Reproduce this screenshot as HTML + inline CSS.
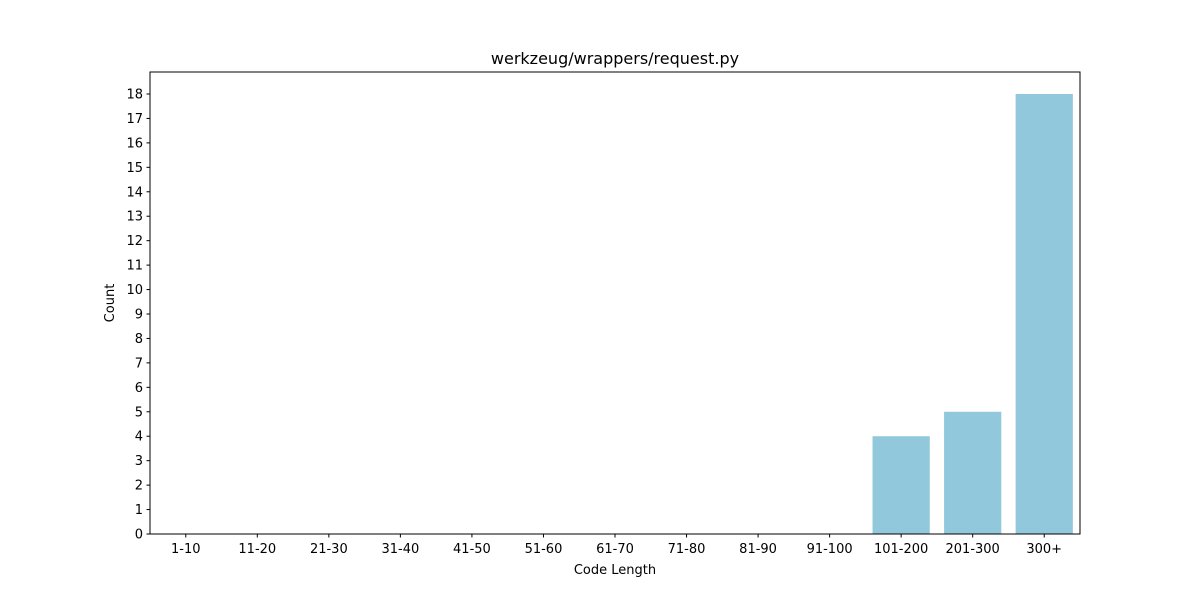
<!DOCTYPE html>
<html><head><meta charset="utf-8"><style>
body{margin:0;background:#fff;font-family:"DejaVu Sans","Liberation Sans",sans-serif;}
</style></head><body>
<svg id="chart" width="1200" height="600" font-family="DejaVu Sans, Liberation Sans, sans-serif"></svg>
<script>
const categories=["1-10","11-20","21-30","31-40","41-50","51-60","61-70","71-80","81-90","91-100","101-200","201-300","300+"];
const counts=[0,0,0,0,0,0,0,0,0,0,4,5,18];
const yTicks=[0,1,2,3,4,5,6,7,8,9,10,11,12,13,14,15,16,17,18];
const svg=document.getElementById('chart');
const NS='http://www.w3.org/2000/svg';
const L=150,R=1080,T=72,B=534,yMax=18.9;
const x=i=>L+(i+0.5)*(R-L)/categories.length;
const y=v=>B-v*(B-T)/yMax;
const bw=0.8*(R-L)/categories.length;
function mk(tag,attrs,txt){const e=document.createElementNS(NS,tag);for(const k in attrs)e.setAttribute(k,attrs[k]);if(txt!==undefined)e.textContent=txt;svg.appendChild(e);return e;}
counts.forEach((v,i)=>{
 const r=mk('rect',{x:x(i)-bw/2,y:y(v),width:bw,height:B-y(v),fill:'#92c8dc'});
 
 
});
const frame=mk('rect',{x:L,y:T,width:R-L,height:B-T,fill:'none',stroke:'#000','stroke-width':1});


yTicks.forEach(t=>{
 mk('line',{x1:L-3.5,x2:L,y1:y(t),y2:y(t),stroke:'#000'});
 const tx=mk('text',{x:L-7,y:y(t)+4.5,'text-anchor':'end','font-size':13},t);
 
 
});
categories.forEach((c,i)=>{
 mk('line',{x1:x(i),x2:x(i),y1:B,y2:B+3.5,stroke:'#000'});
 const tx=mk('text',{x:x(i),y:B+19,'text-anchor':'middle','font-size':13},c);
 
 
});
const xt=mk('text',{x:(L+R)/2,y:574,'text-anchor':'middle','font-size':13},'Code Length');


const yt=mk('text',{x:114,y:(T+B)/2,'text-anchor':'middle','font-size':13,transform:'rotate(-90 114 '+(T+B)/2+')'},'Count');


const tt=mk('text',{x:(L+R)/2,y:64,'text-anchor':'middle','font-size':16},'werkzeug/wrappers/request.py');


</script>
</body></html>
